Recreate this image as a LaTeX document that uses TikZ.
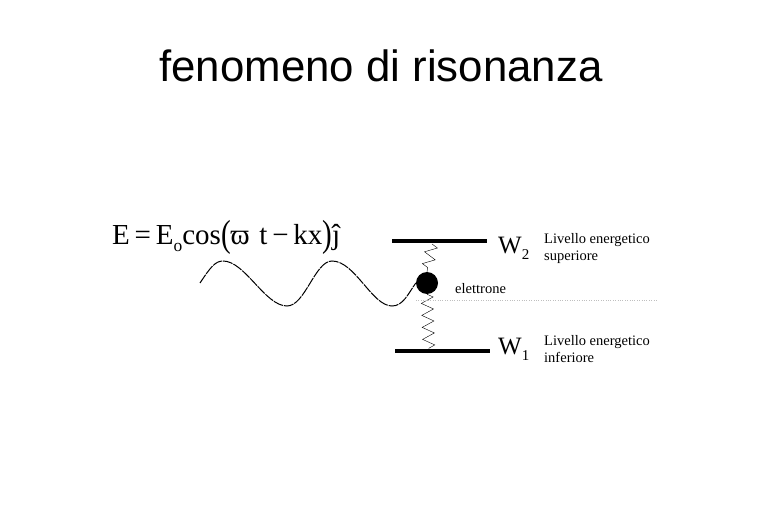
\documentclass[tikz,border=0pt]{standalone}
\usepackage{fontspec}
\setmainfont{Liberation Serif}
\newfontfamily\tsans{Liberation Sans}
\usetikzlibrary{decorations.pathmorphing}
\newcommand{\sbs}[1]{\raisebox{-0.25em}{\scalebox{0.6}{#1}}}
\begin{document}
\begin{tikzpicture}[x=1pt,y=-1pt,
  lbl/.style={anchor=west,font=\fontsize{14.5}{17}\selectfont,align=left,inner sep=0},
  lvl/.style={line width=3.5pt},
  spr/.style={decorate,decoration={zigzag,segment length=12pt,amplitude=6pt},line width=0.4pt}]
\useasboundingbox (0,0) rectangle (765,510);
\node[font=\tsans\fontsize{43.8}{48}\selectfont] (title) at (381,66) {fenomeno di risonanza};
\node[anchor=west,font=\fontsize{29}{32}\selectfont,inner sep=0] (eq) at (112,237) {E\,=\,E\sbs{o}cos\raisebox{-0.05em}{\scalebox{1}[1.3]{(}}ϖ\,\,t\,−\,kx\raisebox{-0.05em}{\scalebox{1}[1.3]{)}}ĵ};
\coordinate (t1) at (392,241); \coordinate (t2) at (487,241);
\coordinate (b1) at (395,351); \coordinate (b2) at (490,351);
\draw[lvl] (t1) -- (t2);
\draw[lvl] (b1) -- (b2);
\node[circle,fill=black,minimum size=22pt,inner sep=0] (el) at (427,283) {};
\coordinate (s1) at (432,244); \coordinate (s2) at (429,350);
\draw[spr] (s1) -- (el.north);
\draw[spr] (el.south) -- (s2);
\coordinate (d1) at (416,300); \coordinate (d2) at (657,300);
\draw[gray!50,dotted] (d1) -- (d2);
\draw[line width=1pt,dash pattern=on 10pt off 1pt] (200,283) .. controls (210,268) and (215,261) .. (223,261)
  .. controls (245,261) and (265,306) .. (287,306)
  .. controls (305,306) and (315,261) .. (332,261)
  .. controls (355,261) and (372,306) .. (392,306)
  .. controls (403,306) and (408,294) .. (el.west);
\node[font=\fontsize{25}{26}\selectfont,anchor=west,inner sep=0] (w2) at (498,248) {W\sbs{2}};
\node[font=\fontsize{25}{26}\selectfont,anchor=west,inner sep=0] (w1) at (498,349) {W\sbs{1}};
\node[lbl] (l2) at (544,249) {Livello energetico\\superiore};
\node[lbl] (l1) at (544,349) {Livello energetico\\inferiore};
\node[lbl] (en) at (455,289) {elettrone};
\end{tikzpicture}
\end{document}
